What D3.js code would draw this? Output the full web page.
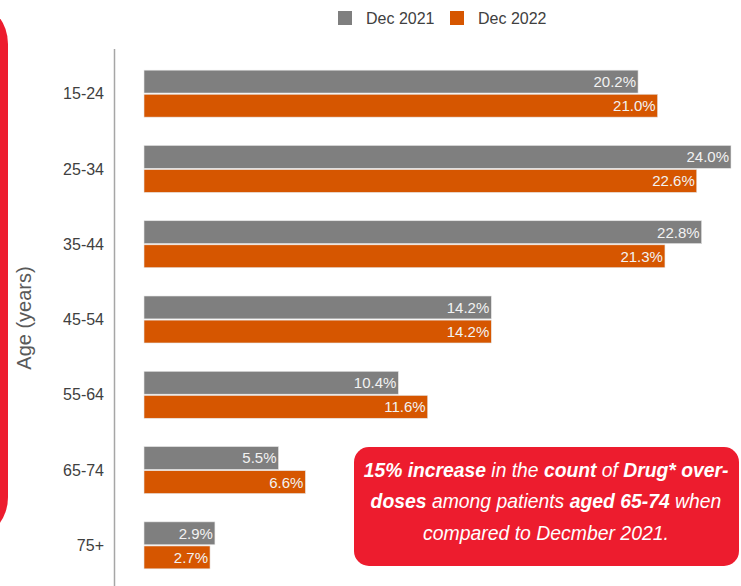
<!DOCTYPE html>
<html>
<head>
<meta charset="utf-8">
<script src="https://cdn.jsdelivr.net/npm/d3@7"></script>
<style>
  body { margin: 0; background: #fff; }
  svg { display: block; font-family: "Liberation Sans", Arial, sans-serif; }
</style>
</head>
<body>
<svg id="chart"></svg>
<script>
// data
const ageGroups = ["15-24", "25-34", "35-44", "45-54", "55-64", "65-74", "75+"];
const seriesNames = ["Dec 2021", "Dec 2022"];
const dec2021 = [20.2, 24.0, 22.8, 14.2, 10.4, 5.5, 2.9];
const dec2022 = [21.0, 22.6, 21.3, 14.2, 11.6, 6.6, 2.7];
const seriesColors = ["#7F7F7F", "#D65600"];

const width = 741, height = 586;

const svg = d3.select("#chart")
  .attr("width", width)
  .attr("height", height);

// red strip at the left edge
svg.append("rect")
  .attr("x", -60).attr("y", 4)
  .attr("width", 68).attr("height", 533)
  .attr("rx", 40)
  .attr("fill", "#ED1C2E");

const xScale = d3.scaleLinear().domain([0, 24]).range([144, 731]);
const yScale = d3.scaleBand()
  .domain(ageGroups)
  .range([56, 583])
  .paddingInner(0.376)
  .paddingOuter(0.188);
const ySub = d3.scaleBand().domain(seriesNames).range([0, yScale.bandwidth()]).paddingInner(0.05);

// axis line
svg.append("line")
  .attr("x1", 114.5).attr("x2", 114.5)
  .attr("y1", 49).attr("y2", height)
  .attr("stroke", "#A6A6A6")
  .attr("stroke-width", 1.5);

// category labels
svg.selectAll(".cat")
  .data(ageGroups)
  .enter()
  .append("text")
  .attr("class", "cat")
  .attr("x", 104)
  .attr("y", (d) => yScale(d) + yScale.bandwidth() / 2)
  .attr("dy", "0.35em")
  .attr("text-anchor", "end")
  .attr("font-size", 16)
  .attr("fill", "#404040")
  .text((d) => d);

// axis title
svg.append("text")
  .attr("transform", "translate(31,318) rotate(-90)")
  .attr("text-anchor", "middle")
  .attr("font-size", 20)
  .attr("fill", "#595959")
  .text("Age (years)");

const rows = ageGroups.map((g, i) => [
  { group: g, series: seriesNames[0], value: dec2021[i], color: seriesColors[0] },
  { group: g, series: seriesNames[1], value: dec2022[i], color: seriesColors[1] },
]).flat();

svg.selectAll(".bar")
  .data(rows)
  .enter()
  .append("rect")
  .attr("class", "bar")
  .attr("x", xScale(0))
  .attr("y", (d) => yScale(d.group) + ySub(d.series))
  .attr("width", (d) => xScale(d.value) - xScale(0))
  .attr("height", ySub.bandwidth())
  .attr("fill", (d) => d.color)
  .attr("stroke", "#e6e6e6")
  .attr("stroke-width", 0.6);

svg.selectAll(".val")
  .data(rows)
  .enter()
  .append("text")
  .attr("class", "val")
  .attr("x", (d) => xScale(d.value) - 2)
  .attr("y", (d) => yScale(d.group) + ySub(d.series) + ySub.bandwidth() / 2)
  .attr("dy", "0.36em")
  .attr("text-anchor", "end")
  .attr("font-size", 15)
  .attr("fill", "#F2F2F2")
  .text((d) => d.value.toFixed(1) + "%");

// legend
const legend = svg.append("g");
const legendX = [338, 450];
seriesNames.forEach((name, i) => {
  legend.append("rect")
    .attr("x", legendX[i]).attr("y", 11)
    .attr("width", 14).attr("height", 14)
    .attr("fill", seriesColors[i]);
  legend.append("text")
    .attr("x", legendX[i] + 28).attr("y", 24)
    .attr("font-size", 16)
    .attr("fill", "#404040")
    .text(name);
});

// callout box
svg.append("rect")
  .attr("x", 354).attr("y", 447)
  .attr("width", 385).attr("height", 119)
  .attr("rx", 15)
  .attr("fill", "#ED1C2E");

const calloutLines = [
  { y: 477, len: 365, parts: [["15% increase", true], [" in the ", false], ["count", true], [" of ", false], ["Drug* over-", true]] },
  { y: 508, len: 351, parts: [["doses", true], [" among patients ", false], ["aged 65-74", true], [" when", false]] },
  { y: 540, len: 246, parts: [["compared to Decmber 2021.", false]] },
];

// squeeze each line horizontally to look like a narrow face
calloutLines.forEach((line) => {
  const g = svg.append("g");
  const t = g.append("text")
    .attr("x", 0)
    .attr("y", 0)
    .attr("text-anchor", "middle")
    .attr("font-size", 19.5)
    .attr("font-style", "italic")
    .attr("fill", "#fff");
  line.parts.forEach(([s, bold]) => {
    t.append("tspan")
      .attr("font-weight", bold ? "bold" : "normal")
      .text(s);
  });
  const natural = t.node().getComputedTextLength();
  g.attr("transform", `translate(546,${line.y}) scale(${line.len / natural},1)`);
});
</script>
</body>
</html>
